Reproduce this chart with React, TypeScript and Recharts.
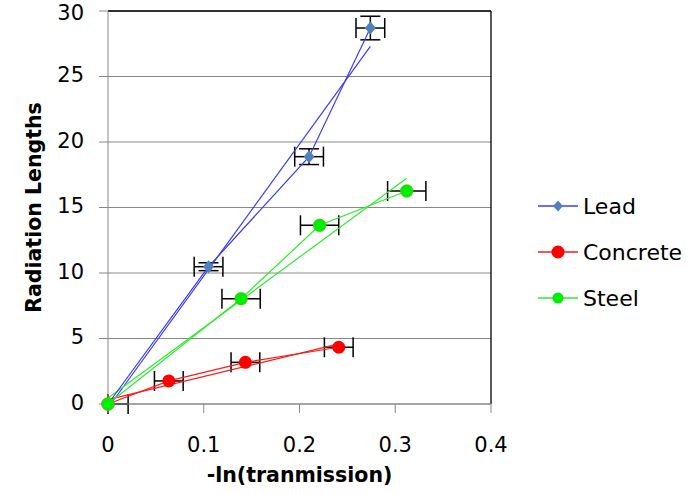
import React from 'react';
import { ScatterChart, Scatter, XAxis, YAxis, CartesianGrid, ErrorBar, ReferenceLine, Legend, Label } from 'recharts';

const seriesNames = ['Lead', 'Concrete', 'Steel'];

const leadX = [0, 0.105, 0.21, 0.274];
const leadY = [0, 10.48, 18.88, 28.7];
const leadXErr = [0, 0.015, 0.015, 0.015];
const leadYErr = [0, 0.3, 0.6, 0.9];

const concreteX = [0, 0.0635, 0.1435, 0.241];
const concreteY = [0, 1.76, 3.18, 4.33];
const concreteXErr = [0, 0.015, 0.015, 0.015];

const steelX = [0, 0.139, 0.221, 0.312];
const steelY = [0, 8.04, 13.64, 16.26];
const steelXErr = [[0, 0.021], 0.02, 0.02, 0.02];

const leadTrendX = [0.003, 0.274];
const leadTrendY = [0, 27.3];
const concreteTrendX = [0, 0.241];
const concreteTrendY = [0.34, 4.59];
const steelTrendX = [0, 0.312];
const steelTrendY = [0.45, 17.24];

const xTicks = [0, 0.1, 0.2, 0.3, 0.4];
const yTicks = [0, 5, 10, 15, 20, 25, 30];

const colors = { Lead: '#3B3BF5', Concrete: '#FF1A1A', Steel: '#2EEA2E' };
const markerColors = { Lead: '#4F81BD', Concrete: '#FF0000', Steel: '#00EE00' };

const build = (xs: number[], ys: number[], ex?: any[], ey?: any[]) =>
  xs.map((x, i) => ({ x, y: ys[i], ex: ex ? ex[i] : 0, ey: ey ? ey[i] : 0 }));

const leadData = build(leadX, leadY, leadXErr, leadYErr);
const concreteData = build(concreteX, concreteY, concreteXErr);
const steelData = build(steelX, steelY, steelXErr);
const leadTrend = build(leadTrendX, leadTrendY);
const concreteTrend = build(concreteTrendX, concreteTrendY);
const steelTrend = build(steelTrendX, steelTrendY);

const FONT = '"DejaVu Sans", sans-serif';

const Diamond = (props: any) => {
  const { cx, cy } = props;
  if (cx == null || cy == null) return <g />;
  return <polygon points={`${cx},${cy - 6.5} ${cx + 5.5},${cy} ${cx},${cy + 6.5} ${cx - 5.5},${cy}`} fill={markerColors.Lead} />;
};
const RedDot = (props: any) => {
  const { cx, cy } = props;
  if (cx == null || cy == null) return <g />;
  return <circle cx={cx} cy={cy} r={6.5} fill={markerColors.Concrete} />;
};
const GreenDot = (props: any) => {
  const { cx, cy } = props;
  if (cx == null || cy == null) return <g />;
  return <circle cx={cx} cy={cy} r={6.5} fill={markerColors.Steel} stroke="#B08A3A" strokeOpacity={0.35} strokeWidth={1} />;
};
const NoShape = () => <g />;

const YTick = (props: any) => {
  const { x, y, payload } = props;
  const shift = payload.value === 30 ? 1.7 : -1.5;
  return (
    <text x={x} y={y + shift} dy="0.355em" textAnchor="end" fill="#000" fontSize={21} fontFamily={FONT}>
      {payload.value}
    </text>
  );
};

const LegendContent = () => (
  <div style={{ fontFamily: FONT, fontSize: 22, color: '#000', whiteSpace: 'nowrap' }}>
    {seriesNames.map((name) => (
      <div key={name} style={{ display: 'flex', alignItems: 'center', height: 46 }}>
        <svg width={44} height={20} style={{ marginLeft: 47, flexShrink: 0 }}>
          <line x1={0} y1={10} x2={40} y2={10} stroke={(colors as any)[name]} strokeWidth={1.5} />
          {name === 'Lead' ? (
            <polygon points="20,4.5 25,10 20,15.5 15,10" fill={markerColors.Lead} />
          ) : (
            <circle cx={20} cy={10} r={name === 'Concrete' ? 6.5 : 5.5} fill={(markerColors as any)[name]} />
          )}
        </svg>
        <span style={{ marginLeft: 1, flexShrink: 0 }}>{name}</span>
      </div>
    ))}
  </div>
);

export default function App() {
  return (
    <div style={{ position: 'absolute', left: 0, top: 0, background: '#fff' }}>
      <ScatterChart width={696} height={494} margin={{ top: 11, right: 45, left: 0, bottom: 0 }}>
        <CartesianGrid horizontal vertical={false} stroke="#888888" strokeWidth={1} />
        <XAxis
          type="number"
          dataKey="x"
          domain={[0, 0.4]}
          ticks={xTicks}
          height={90}
          axisLine={{ stroke: '#888888' }}
          tickLine={{ stroke: '#888888' }}
          tickSize={9}
          tickMargin={24}
          tick={{ fill: '#000', fontSize: 21, fontFamily: FONT }}
          tickFormatter={(v: number) => String(v)}
        >
          <Label
            value="-ln(tranmission)"
            position="insideBottom"
            offset={12}
            style={{ fontFamily: FONT, fontSize: 20.5, fontWeight: 700, fill: '#000' }}
          />
        </XAxis>
        <YAxis
          type="number"
          dataKey="y"
          domain={[0, 30]}
          ticks={yTicks}
          width={108}
          axisLine={{ stroke: '#888888' }}
          tickLine={{ stroke: '#888888' }}
          tickSize={9}
          tickMargin={15}
          tick={<YTick />}
        >
          <Label
            value="Radiation Lengths"
            angle={-90}
            position="insideLeft"
            offset={34}
            style={{ fontFamily: FONT, fontSize: 20.5, fontWeight: 700, fill: '#000', textAnchor: 'middle' }}
          />
        </YAxis>
        <ReferenceLine y={30} stroke="#000" strokeWidth={1.3} />
        <ReferenceLine x={0.4} stroke="#000" strokeWidth={1.3} />
        <Legend
          layout="vertical"
          align="right"
          verticalAlign="middle"
          width={160}
          wrapperStyle={{ width: 160, top: 183 }}
          content={<LegendContent />}
        />
        <Scatter name="LeadTrend" data={leadTrend} line={{ stroke: colors.Lead, strokeWidth: 1.2 }} shape={<NoShape />} legendType="none" isAnimationActive={false} />
        <Scatter name="ConcreteTrend" data={concreteTrend} line={{ stroke: colors.Concrete, strokeWidth: 1.2 }} shape={<NoShape />} legendType="none" isAnimationActive={false} />
        <Scatter name="SteelTrend" data={steelTrend} line={{ stroke: colors.Steel, strokeWidth: 1.2 }} shape={<NoShape />} legendType="none" isAnimationActive={false} />
        <Scatter name="Lead" data={leadData} line={{ stroke: colors.Lead, strokeWidth: 1.2 }} shape={<Diamond />} isAnimationActive={false}>
          <ErrorBar dataKey="ex" direction="x" width={10} stroke="#000" strokeWidth={1.5} />
          <ErrorBar dataKey="ey" direction="y" width={10} stroke="#000" strokeWidth={1.5} />
        </Scatter>
        <Scatter name="Concrete" data={concreteData} line={{ stroke: colors.Concrete, strokeWidth: 1.2 }} shape={<RedDot />} isAnimationActive={false}>
          <ErrorBar dataKey="ex" direction="x" width={10} stroke="#000" strokeWidth={1.5} />
        </Scatter>
        <Scatter name="Steel" data={steelData} line={{ stroke: colors.Steel, strokeWidth: 1.2 }} shape={<GreenDot />} isAnimationActive={false}>
          <ErrorBar dataKey="ex" direction="x" width={10} stroke="#000" strokeWidth={1.5} />
        </Scatter>
      </ScatterChart>
    </div>
  );
}
